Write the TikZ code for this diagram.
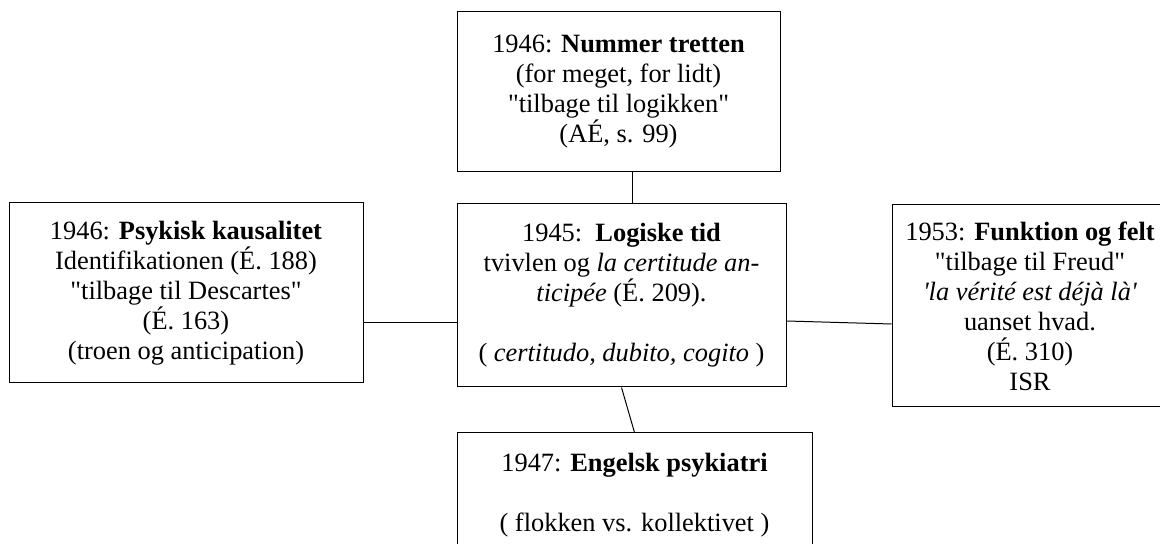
\documentclass[tikz,border=0pt]{standalone}
\usepackage{fontspec}
\newfontfamily\wordfont{Liberation Serif}
\usetikzlibrary{calc}

\begin{document}
\begin{tikzpicture}
  [x=0.5pt, y=-0.5pt, line width=0.5pt,
   box/.style={draw, align=center, inner sep=0pt,
     font=\wordfont\fontsize{13.2}{15}\selectfont}]
  \useasboundingbox (0,0) rectangle (1160,544);

  \node[box, minimum width=161.5pt, minimum height=80pt] (n46a) at (618.5,92)
    {1946: \textbf{Nummer tretten}\\(for meget, for lidt)\\"tilbage til logikken"\\(AÉ, s. 99)};
  \node[box, minimum width=177pt, minimum height=90pt] (n46b) at (186,293)
    {1946: \textbf{Psykisk kausalitet}\\Identifikationen (É. 188)\\"tilbage til Descartes"\\(É. 163)\\(troen og anticipation)};
  \node[box, minimum width=164.5pt, minimum height=91.5pt] (n45) at (621.5,295.5)
    {1945:\ \ \textbf{Logiske tid}\\tvivlen og \textit{la certitude an-}\\\textit{ticipée} (É. 209).\\[15pt]( \textit{certitudo, dubito, cogito} )};
  \node[box, minimum width=138pt, minimum height=101pt] (n53) at (1030,306)
    {1953: \textbf{Funktion og felt}\\"tilbage til Freud"\\\textit{'la vérité est déjà là'}\\uanset hvad.\\(É. 310)\\ISR};
  \node[box, minimum width=177.5pt, minimum height=62.5pt] (n47) at (634.5,495.5)
    {1947: \textbf{Engelsk psykiatri}\\[15pt]( flokken vs. kollektivet )};

  \draw ($(n46a.south)+(13.5,0)$) -- ($(n45.north)+(10.5,0)$);
  \draw ($(n46b.east)+(0,30)$) -- ($(n45.west)+(0,27.5)$);
  \draw ($(n45.east)+(0,25.5)$) -- ($(n53.west)+(0,18)$);
  \draw (n45.south) -- (n47.north);

\end{tikzpicture}
\end{document}
